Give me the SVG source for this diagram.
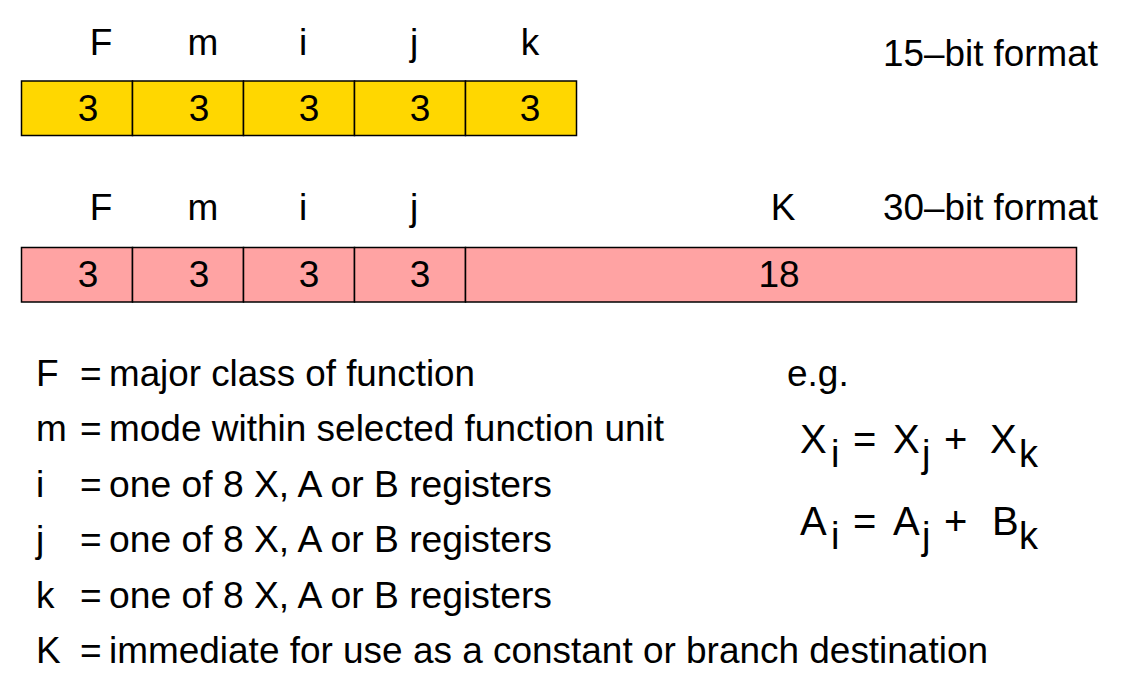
<svg xmlns="http://www.w3.org/2000/svg" width="1140" height="697" viewBox="0 0 1140 697">
<style>
text{font-family:"Liberation Sans",Arial,sans-serif;fill:#000}
.t{font-size:37px}
.c{font-size:37px;text-anchor:middle}
.eq{font-size:40px}
.sub{font-size:38px}
.y{fill:#FFD700;stroke:#000;stroke-width:1.5}
.p{fill:#FFA3A3;stroke:#000;stroke-width:1.5}
</style>
<rect width="1140" height="697" fill="#fff"/>
<g id="format15">
<rect class="y" x="21.5" y="81" width="111" height="54.5"/>
<rect class="y" x="132.5" y="81" width="111" height="54.5"/>
<rect class="y" x="243.5" y="81" width="111" height="54.5"/>
<rect class="y" x="354.5" y="81" width="111" height="54.5"/>
<rect class="y" x="465.5" y="81" width="111" height="54.5"/>
<text class="c" x="101" y="55">F</text>
<text class="c" x="203" y="55">m</text>
<text class="c" x="303" y="55">i</text>
<text class="c" x="414" y="55">j</text>
<text class="c" x="530" y="55">k</text>
<text class="c" x="88" y="121">3</text>
<text class="c" x="199" y="121">3</text>
<text class="c" x="309" y="121">3</text>
<text class="c" x="420" y="121">3</text>
<text class="c" x="530" y="121">3</text>
<text class="t" x="883" y="66" textLength="215" lengthAdjust="spacingAndGlyphs">15–bit format</text>
</g>
<g id="format30">
<rect class="p" x="21.5" y="247.5" width="111" height="54.5"/>
<rect class="p" x="132.5" y="247.5" width="111" height="54.5"/>
<rect class="p" x="243.5" y="247.5" width="111" height="54.5"/>
<rect class="p" x="354.5" y="247.5" width="111" height="54.5"/>
<rect class="p" x="465.5" y="247.5" width="611" height="54.5"/>
<text class="c" x="101" y="220">F</text>
<text class="c" x="203" y="220">m</text>
<text class="c" x="303" y="220">i</text>
<text class="c" x="414" y="220">j</text>
<text class="c" x="783" y="220">K</text>
<text class="c" x="88" y="287">3</text>
<text class="c" x="199" y="287">3</text>
<text class="c" x="309" y="287">3</text>
<text class="c" x="420" y="287">3</text>
<text class="c" x="779" y="287">18</text>
<text class="t" x="883" y="220" textLength="215" lengthAdjust="spacingAndGlyphs">30–bit format</text>
</g>
<g id="legend">
<text class="t" x="36" y="386">F</text><text class="t" x="80" y="386">=</text><text class="t" x="109" y="386" textLength="366" lengthAdjust="spacingAndGlyphs">major class of function</text>
<text class="t" x="36" y="441">m</text><text class="t" x="80" y="441">=</text><text class="t" x="109" y="441" textLength="555" lengthAdjust="spacingAndGlyphs">mode within selected function unit</text>
<text class="t" x="36" y="497">i</text><text class="t" x="80" y="497">=</text><text class="t" x="109" y="497" textLength="443" lengthAdjust="spacingAndGlyphs">one of 8 X, A or B registers</text>
<text class="t" x="36" y="552">j</text><text class="t" x="80" y="552">=</text><text class="t" x="109" y="552" textLength="443" lengthAdjust="spacingAndGlyphs">one of 8 X, A or B registers</text>
<text class="t" x="36" y="608">k</text><text class="t" x="80" y="608">=</text><text class="t" x="109" y="608" textLength="443" lengthAdjust="spacingAndGlyphs">one of 8 X, A or B registers</text>
<text class="t" x="36" y="663">K</text><text class="t" x="80" y="663">=</text><text class="t" x="109" y="663" textLength="879" lengthAdjust="spacingAndGlyphs">immediate for use as a constant or branch destination</text>
</g>
<g id="example">
<text class="t" x="787" y="386">e.g.</text>
<text class="eq" x="800" y="453">X</text><text class="sub" x="831" y="467">i</text>
<text class="eq" x="853" y="453">=</text>
<text class="eq" x="893" y="453">X</text><text class="sub" x="922" y="467">j</text>
<text class="eq" x="944" y="453">+</text>
<text class="eq" x="990" y="453">X</text><text class="sub" x="1019" y="467">k</text>
<text class="eq" x="800" y="535">A</text><text class="sub" x="831" y="549">i</text>
<text class="eq" x="853" y="535">=</text>
<text class="eq" x="893" y="535">A</text><text class="sub" x="922" y="549">j</text>
<text class="eq" x="944" y="535">+</text>
<text class="eq" x="992" y="535">B</text><text class="sub" x="1019" y="549">k</text>
</g>
</svg>
